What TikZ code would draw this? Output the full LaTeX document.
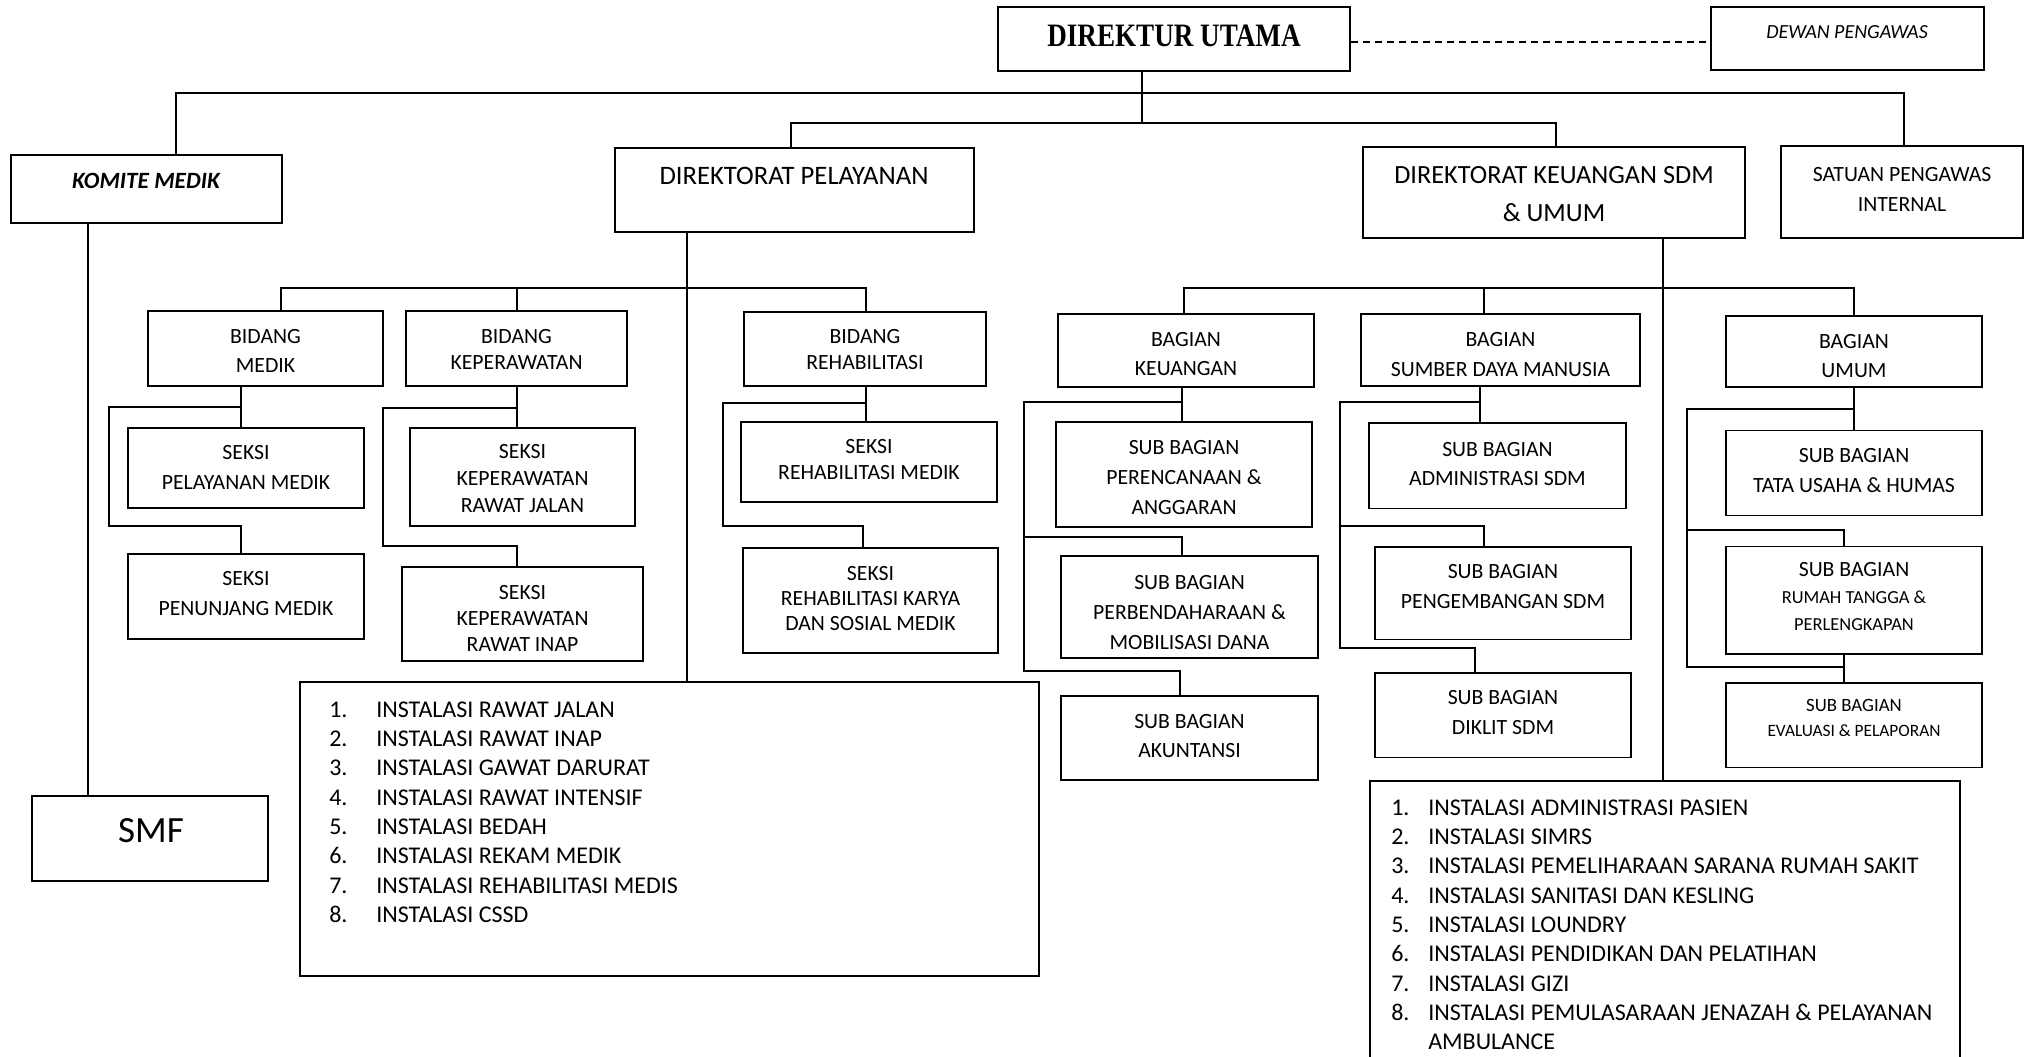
\documentclass[tikz,border=0pt]{standalone}
\usepackage{graphicx}
\usepackage{fontspec}
\setmainfont{Carlito}
\newfontfamily\serifbold{Liberation Serif}
\usetikzlibrary{fit}
\newcommand\nma[1]{\makebox[35.25pt][l]{#1}}
\newcommand\nmb[1]{\makebox[27.75pt][l]{#1}}
\begin{document}
\begin{tikzpicture}[x=0.75pt,y=-0.75pt,
  box/.style={draw, line width=1.2pt, inner sep=0pt},
  con/.style={line width=1pt},
  txt/.style={inner sep=0pt, align=center, font=\fontsize{16.3pt}{#1}\selectfont},
  sml/.style={inner sep=0pt, align=center, font=\fontsize{13.8pt}{#1}\selectfont},
  lst/.style={inner sep=0pt, align=left, anchor=north west, font=\fontsize{18pt}{22pt}\selectfont},
]
\useasboundingbox (0,0) rectangle (2025,1057);
\clip (0,0) rectangle (2025,1057);

% top level
\node[box, fit={(998,7)(1350,71)}] (dirut) {};
\node[inner sep=0pt, font=\serifbold\bfseries\fontsize{24.5pt}{28pt}\selectfont] (dirutt) at (1174,36) {\scalebox{0.83}[1]{DIREKTUR UTAMA}};
\node[box, fit={(1711,7)(1984,70)}] (dewan) {};
\node[inner sep=0pt, font=\itshape\fontsize{15pt}{18pt}\selectfont] (dewant) at (1847,32) {DEWAN PENGAWAS};
\node[box, fit={(11,155)(282,223)}] (komite) {};
\node[inner sep=0pt, font=\bfseries\itshape\fontsize{17.5pt}{20pt}\selectfont] (komitet) at (146,181) {KOMITE MEDIK};
\node[box, fit={(615,148)(974,232)}] (dirpel) {};
\node[inner sep=0pt, font=\fontsize{20pt}{26pt}\selectfont] (dirpelt) at (794,176) {DIREKTORAT PELAYANAN};
\node[box, fit={(1363,147)(1745,238)}] (dirkeu) {};
\node[inner sep=0pt, align=center, font=\fontsize{19.7pt}{28.7pt}\selectfont] (dirkeut) at (1554,194) {DIREKTORAT KEUANGAN SDM\\\& UMUM};
\node[box, fit={(1781,146)(2023,238)}] (satuan) {};
\node[txt=22.5pt] (satuant) at (1902,189) {SATUAN PENGAWAS\\INTERNAL};
\node[box, fit={(32,796)(268,881)}] (smf) {};
\node[inner sep=0pt, font=\fontsize{27.75pt}{30pt}\selectfont] (smft) at (151,831) {SMF};

% direktorat pelayanan side
\node[box, fit={(148,311)(383,386)}] (bm) {};
\node[txt=21.75pt] (bmt) at (265.5,350.5) {BIDANG\\MEDIK};
\node[box, fit={(406,311)(627,386)}] (bk) {};
\node[txt=19.5pt] (bkt) at (516.5,349) {BIDANG\\KEPERAWATAN};
\node[box, fit={(744,312)(986,386)}] (br) {};
\node[txt=19.5pt] (brt) at (865,350) {BIDANG\\REHABILITASI};
\node[box, fit={(128,428)(364,508)}] (spm) {};
\node[txt=22.5pt] (spmt) at (246,467) {SEKSI\\PELAYANAN MEDIK};
\node[box, fit={(128,554)(364,639)}] (spn) {};
\node[txt=22.5pt] (spnt) at (246,594) {SEKSI\\PENUNJANG MEDIK};
\node[box, fit={(410,428)(635,526)}] (srj) {};
\node[txt=19.9pt] (srjt) at (522.5,478.5) {SEKSI\\KEPERAWATAN\\RAWAT JALAN};
\node[box, fit={(402,567)(643,661)}] (sri) {};
\node[txt=19.5pt] (srit) at (522.5,618) {SEKSI\\KEPERAWATAN\\RAWAT INAP};
\node[box, fit={(741,422)(997,502)}] (srm) {};
\node[txt=19.5pt] (srmt) at (869,460) {SEKSI\\REHABILITASI MEDIK};
\node[box, fit={(743,548)(998,653)}] (srk) {};
\node[txt=19.1pt] (srkt) at (870.5,598.5) {SEKSI\\REHABILITASI KARYA\\DAN SOSIAL MEDIK};
\node[box, fit={(300,682)(1039,976)}] (inst1) {};
\node[lst] (inst1t) at (329,701.4) {\nma{1.}INSTALASI RAWAT JALAN\\
\nma{2.}INSTALASI RAWAT INAP\\
\nma{3.}INSTALASI GAWAT DARURAT\\
\nma{4.}INSTALASI RAWAT INTENSIF\\
\nma{5.}INSTALASI BEDAH\\
\nma{6.}INSTALASI REKAM MEDIK\\
\nma{7.}INSTALASI REHABILITASI MEDIS\\
\nma{8.}INSTALASI CSSD};

% direktorat keuangan side
\node[box, fit={(1058,314)(1314,387)}] (bkeu) {};
\node[txt=21.75pt] (bkeut) at (1186,354) {BAGIAN\\KEUANGAN};
\node[box, fit={(1361,314)(1640,386)}] (bsdm) {};
\node[txt=22.5pt] (bsdmt) at (1500.5,354.4) {BAGIAN\\SUMBER DAYA MANUSIA};
\node[box, fit={(1726,316)(1982,387)}] (bum) {};
\node[txt=21.75pt] (bumt) at (1854,355.8) {BAGIAN\\UMUM};
\node[box, fit={(1056,422)(1312,527)}] (spa) {};
\node[txt=22.35pt] (spat) at (1184,477.3) {SUB BAGIAN\\PERENCANAAN \&\\ANGGARAN};
\node[box, fit={(1061,556)(1318,658)}] (spb) {};
\node[txt=22.5pt] (spbt) at (1189.5,612.2) {SUB BAGIAN\\PERBENDAHARAAN \&\\MOBILISASI DANA};
\node[box, fit={(1061,696)(1318,780)}] (sak) {};
\node[txt=22.35pt] (sakt) at (1189.5,736) {SUB BAGIAN\\AKUNTANSI};
\node[box, fit={(1369,423)(1626,508.5)}] (sadm) {};
\node[txt=22.1pt] (sadmt) at (1497.5,464) {SUB BAGIAN\\ADMINISTRASI SDM};
\node[box, fit={(1375,547)(1631,639.4)}] (speng) {};
\node[txt=22.5pt] (spengt) at (1503,586.8) {SUB BAGIAN\\PENGEMBANGAN SDM};
\node[box, fit={(1375,672.7)(1631,757.6)}] (sdik) {};
\node[txt=22.35pt] (sdikt) at (1503,712.8) {SUB BAGIAN\\DIKLIT SDM};
\node[box, fit={(1726,430.6)(1982,515.5)}] (stu) {};
\node[txt=22.35pt] (stut) at (1854,470.8) {SUB BAGIAN\\TATA USAHA \& HUMAS};
\node[box, fit={(1726,546.4)(1982,654.1)}] (srt) {};
\node[sml=20.25pt] (srtt) at (1854,597) {{\fontsize{16.3pt}{20.25pt}\selectfont SUB BAGIAN}\\RUMAH TANGGA \&\\PERLENGKAPAN};
\node[box, fit={(1726,683.2)(1982,767.4)}] (sev) {};
\node[inner sep=0pt, align=center, font=\fontsize{13pt}{18.1pt}\selectfont] (sevt) at (1854,718) {{\fontsize{14.1pt}{18.1pt}\selectfont SUB BAGIAN}\\EVALUASI \& PELAPORAN};
\node[box, fit={(1370,781)(1960,1090)}] (inst2) {};
\node[lst] (inst2t) at (1391,799.4) {\nmb{1.}INSTALASI ADMINISTRASI PASIEN\\
\nmb{2.}INSTALASI SIMRS\\
\nmb{3.}INSTALASI PEMELIHARAAN SARANA RUMAH SAKIT\\
\nmb{4.}INSTALASI SANITASI DAN KESLING\\
\nmb{5.}INSTALASI LOUNDRY\\
\nmb{6.}INSTALASI PENDIDIKAN DAN PELATIHAN\\
\nmb{7.}INSTALASI GIZI\\
\nmb{8.}INSTALASI PEMULASARAAN JENAZAH \& PELAYANAN\\
\nmb{}AMBULANCE};

% connectors: top level
\draw[con, dash pattern=on 5.25pt off 3.75pt] (dirut.east |- 0,42) -- (dewan.west |- 0,42);
\draw[con] (komite.north -| 176,0) |- (1142,93) -| (satuan.north -| 1904,0);
\draw[con] (dirut.south -| 1142,0) -- (1142,123);
\draw[con] (dirpel.north -| 791,0) -- (791,123) -- (1556,123) -- (dirkeu.north -| 1556,0);
\draw[con] (komite.south -| 88,0) -- (smf.north -| 88,0);
\draw[con] (dirpel.south -| 687,0) -- (inst1.north -| 687,0);
\draw[con] (dirkeu.south -| 1663,0) -- (inst2.north -| 1663,0);

% pelayanan branches
\draw[con] (bm.north -| 281,0) -- (281,288) -- (866,288) -- (br.north -| 866,0);
\draw[con] (517,288) -- (bk.north -| 517,0);
\draw[con] (bm.south -| 241,0) -- (spm.north -| 241,0);
\draw[con] (241,407) -- (109,407) -- (109,526) -- (241,526) -- (spn.north -| 241,0);
\draw[con] (bk.south -| 517,0) -- (srj.north -| 517,0);
\draw[con] (517,408) -- (383,408) -- (383,546) -- (517,546) -- (sri.north -| 517,0);
\draw[con] (br.south -| 866,0) -- (srm.north -| 866,0);
\draw[con] (866,403) -- (723,403) -- (723,526) -- (863,526) -- (srk.north -| 863,0);

% keuangan branches
\draw[con] (bkeu.north -| 1184,0) -- (1184,288) -- (1854,288) -- (bum.north -| 1854,0);
\draw[con] (1484,288) -- (bsdm.north -| 1484,0);
\draw[con] (bkeu.south -| 1182,0) -- (spa.north -| 1182,0);
\draw[con] (1182,402) -- (1024,402) -- (1024,671) -- (1180,671) -- (sak.north -| 1180,0);
\draw[con] (1024,537) -- (1182,537) -- (spb.north -| 1182,0);
\draw[con] (bsdm.south -| 1480,0) -- (sadm.north -| 1480,0);
\draw[con] (1480,402) -- (1340,402) -- (1340,648) -- (1475,648) -- (sdik.north -| 1475,0);
\draw[con] (1340,526) -- (1484,526) -- (speng.north -| 1484,0);
\draw[con] (bum.south -| 1854,0) -- (stu.north -| 1854,0);
\draw[con] (1854,409) -- (1687,409) -- (1687,667) -- (1844,667);
\draw[con] (1687,530) -- (1844,530) -- (srt.north -| 1844,0);
\draw[con] (srt.south -| 1844,0) -- (sev.north -| 1844,0);
\end{tikzpicture}
\end{document}
